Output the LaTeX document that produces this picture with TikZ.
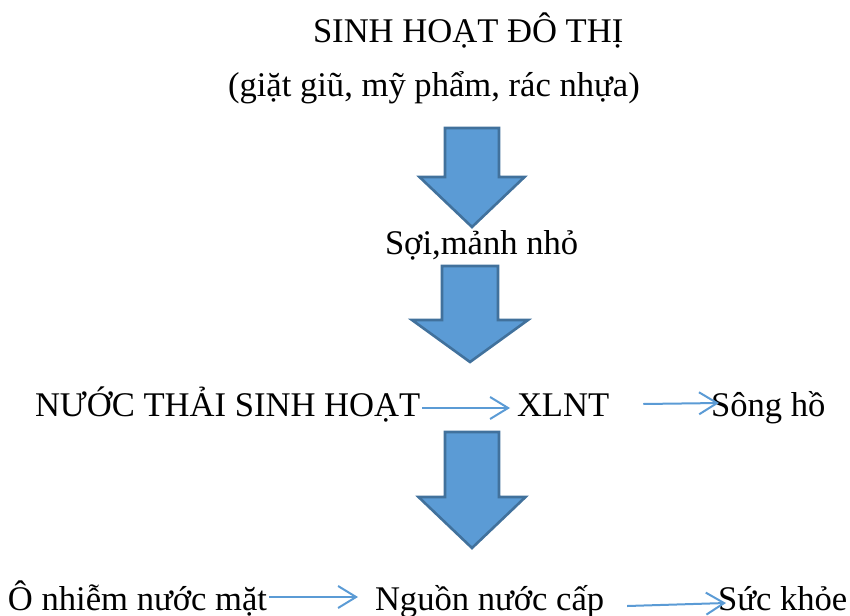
\documentclass[tikz,border=0pt]{standalone}
\usepackage{fontspec}
\setmainfont{Liberation Serif}
\usetikzlibrary{arrows.meta,calc}

\definecolor{arrowfill}{HTML}{5B9BD5}
\definecolor{arrowedge}{HTML}{41719C}
\definecolor{linkblue}{HTML}{5B9BD5}

\tikzset{
  label text/.style={anchor=base west, inner sep=0pt, outer sep=0pt,
    font=\fontsize{34.6}{40}\selectfont},
  block arrow/.style={fill=arrowfill, draw=arrowedge, line width=2.6pt,
    line join=miter},
  link/.style={draw=linkblue, line width=2pt,
    -{Straight Barb[length=18pt,width=22pt,line width=2pt]}},
}

% broad downward arrow: centre x, top y, shaft width, head width, neck y, tip y
\newcommand\downblock[6]{%
  \draw[block arrow]
    ({#1-#3/2},#2) -- ({#1+#3/2},#2) -- ({#1+#3/2},#5) -- ({#1+#4/2},#5)
    -- (#1,#6) -- ({#1-#4/2},#5) -- ({#1-#3/2},#5) -- cycle;}

\begin{document}
\begin{tikzpicture}[x=1pt,y=-1pt]
  \useasboundingbox (0,0) rectangle (850,615);

  % texts
  \node[label text] (title)   at (313,43)  {SINH HOẠT ĐÔ THỊ};
  \node[label text] (sources) at (228,96)  {(giặt giũ, mỹ phẩm, rác nhựa)};
  \node[label text] (fibres)  at (385,254) {Sợi,mảnh nhỏ};
  \node[label text] (waste)   at (35,416)  {NƯỚC THẢI SINH HOẠT};
  \node[label text] (xlnt)    at (517,416) {XLNT};
  \node[label text] (rivers)  at (711,416) {Sông hồ};
  \node[label text] (surface) at (8,610)   {Ô nhiễm nước mặt};
  \node[label text] (supply)  at (375,610) {Nguồn nước cấp};
  \node[label text] (health)  at (718,610) {Sức khỏe};

  % broad arrows
  \downblock{472}{128}{54}{105}{177}{227}
  \downblock{470}{266}{56}{116}{320}{362}
  \downblock{472}{432}{54}{107}{497}{548}

  % thin links
  \draw[link] ($(waste.base east)+(2,-8)$) -- ($(xlnt.base west)+(-7,-8)$);
  \draw[link] ($(xlnt.base east)+(34,-12)$) -- ($(rivers.base west)+(8,-13)$);
  \draw[link] ($(surface.base east)+(2,-13)$) -- ($(supply.base west)+(-17,-13)$);
  \draw[link] ($(supply.base east)+(23,-4)$) -- ($(health.base west)+(8,-7)$);
\end{tikzpicture}
\end{document}
